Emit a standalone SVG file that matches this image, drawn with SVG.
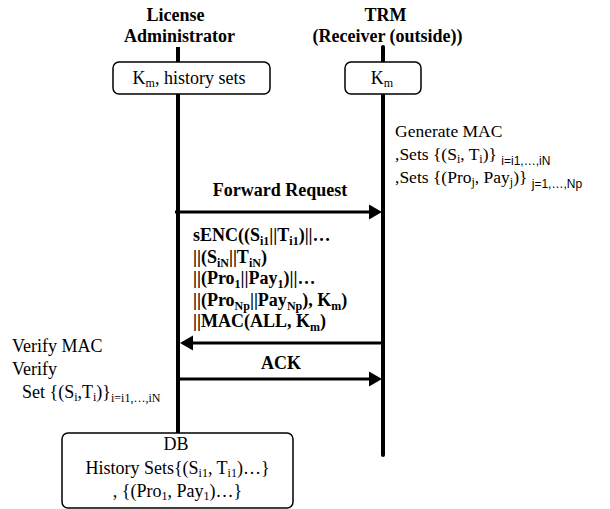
<svg xmlns="http://www.w3.org/2000/svg" width="610" height="509" viewBox="0 0 610 509">
<style>
text{font-family:'Liberation Serif','Times New Roman',Times,serif;font-size:18px;fill:#000}
.b{font-weight:bold}
.s{font-size:12px}
.ss{font-family:'Liberation Sans',Arial,sans-serif;font-size:12px;font-weight:normal}
.box{fill:#fff;stroke:#000;stroke-width:1.5}
.life{stroke:#000;stroke-width:4;fill:none}
.msg{stroke:#000;stroke-width:3;fill:none}
</style>
<rect width="610" height="509" fill="#fff"/>
<g id="connectors">
  <line class="life" x1="178" y1="47" x2="178" y2="433"/>
  <line class="life" x1="383" y1="47" x2="383" y2="455" stroke-linecap="round"/>
  <line class="msg" x1="175" y1="212" x2="370" y2="212"/>
  <polygon points="369,204.5 382,212 369,219.5" fill="#000"/>
  <line class="msg" x1="383" y1="343" x2="192" y2="343"/>
  <polygon points="193,335.5 180,343 193,350.5" fill="#000"/>
  <line class="msg" x1="178" y1="379" x2="370" y2="379"/>
  <polygon points="369,371.5 382,379 369,386.5" fill="#000"/>
  <text class="b" x="280" y="196" text-anchor="middle" font-family="Liberation Serif">Forward Request</text>
  <text class="b" x="193" y="241">sENC((S<tspan class="s" dy="4">i1</tspan><tspan dy="-4">||T</tspan><tspan class="s" dy="4">i1</tspan><tspan dy="-4">)||…</tspan></text>
  <text class="b" x="193" y="262.5">||(S<tspan class="s" dy="4">iN</tspan><tspan dy="-4">||T</tspan><tspan class="s" dy="4">iN</tspan><tspan dy="-4">)</tspan></text>
  <text class="b" x="193" y="284">||(Pro<tspan class="s" dy="4">1</tspan><tspan dy="-4">||Pay</tspan><tspan class="s" dy="4">1</tspan><tspan dy="-4">)||…</tspan></text>
  <text class="b" x="193" y="305.5">||(Pro<tspan class="s" dy="4">Np</tspan><tspan dy="-4">||Pay</tspan><tspan class="s" dy="4">Np</tspan><tspan dy="-4">), K</tspan><tspan class="s" dy="4">m</tspan><tspan dy="-4">)</tspan></text>
  <text class="b" x="193" y="327">||MAC(ALL, K<tspan class="s" dy="4">m</tspan><tspan dy="-4">)</tspan></text>
  <text class="b" x="281" y="369" text-anchor="middle">ACK</text>
</g>
<g id="node-admin">
  <text class="b" x="175.5" y="20.5" text-anchor="middle">License</text>
  <text class="b" x="179.5" y="42" text-anchor="middle">Administrator</text>
  <rect class="box" x="113" y="62" width="157" height="32" rx="6"/>
  <text x="189" y="83.5" text-anchor="middle">K<tspan class="s" dy="3">m</tspan><tspan dy="-3">, history sets</tspan></text>
</g>
<g id="node-trm">
  <text class="b" x="385.5" y="20.5" text-anchor="middle">TRM</text>
  <text class="b" x="387.5" y="42" text-anchor="middle">(Receiver (outside))</text>
  <rect class="box" x="345" y="62" width="76" height="32" rx="6"/>
  <text x="382" y="83.5" text-anchor="middle">K<tspan class="s" dy="3">m</tspan></text>
</g>
<g id="note-generate">
  <text x="395" y="137" style="font-size:17.5px">Generate MAC</text>
  <text x="395" y="160" style="font-size:17.5px">,Sets {(S<tspan class="s" dy="3">i</tspan><tspan dy="-3">, T</tspan><tspan class="s" dy="3">i</tspan><tspan dy="-3">)} </tspan><tspan class="ss" dy="5">i=i1,…,iN</tspan></text>
  <text x="395" y="183" style="font-size:17.5px">,Sets {(Pro<tspan class="s" dy="3">j</tspan><tspan dy="-3">, Pay</tspan><tspan class="s" dy="3">j</tspan><tspan dy="-3">)} </tspan><tspan class="ss" dy="5">j=1,…,Np</tspan></text>
</g>
<g id="note-verify">
  <text x="12" y="352">Verify MAC</text>
  <text x="12" y="375">Verify</text>
  <text x="22" y="398">Set {(S<tspan class="s" dy="3">i</tspan><tspan dy="-3">,T</tspan><tspan class="s" dy="3">i</tspan><tspan dy="-3">)}</tspan><tspan class="s" dy="4">i=i1,…,iN</tspan></text>
</g>
<g id="node-db">
  <rect class="box" x="62" y="433" width="231" height="75" rx="6"/>
  <text x="176" y="450" text-anchor="middle">DB</text>
  <text x="177.5" y="473.5" text-anchor="middle">History Sets{(S<tspan class="s" dy="3">i1</tspan><tspan dy="-3">, T</tspan><tspan class="s" dy="3">i1</tspan><tspan dy="-3">)…}</tspan></text>
  <text x="177.5" y="496.5" text-anchor="middle">, {(Pro<tspan class="s" dy="3">1</tspan><tspan dy="-3">, Pay</tspan><tspan class="s" dy="3">1</tspan><tspan dy="-3">)…}</tspan></text>
</g>
</svg>
